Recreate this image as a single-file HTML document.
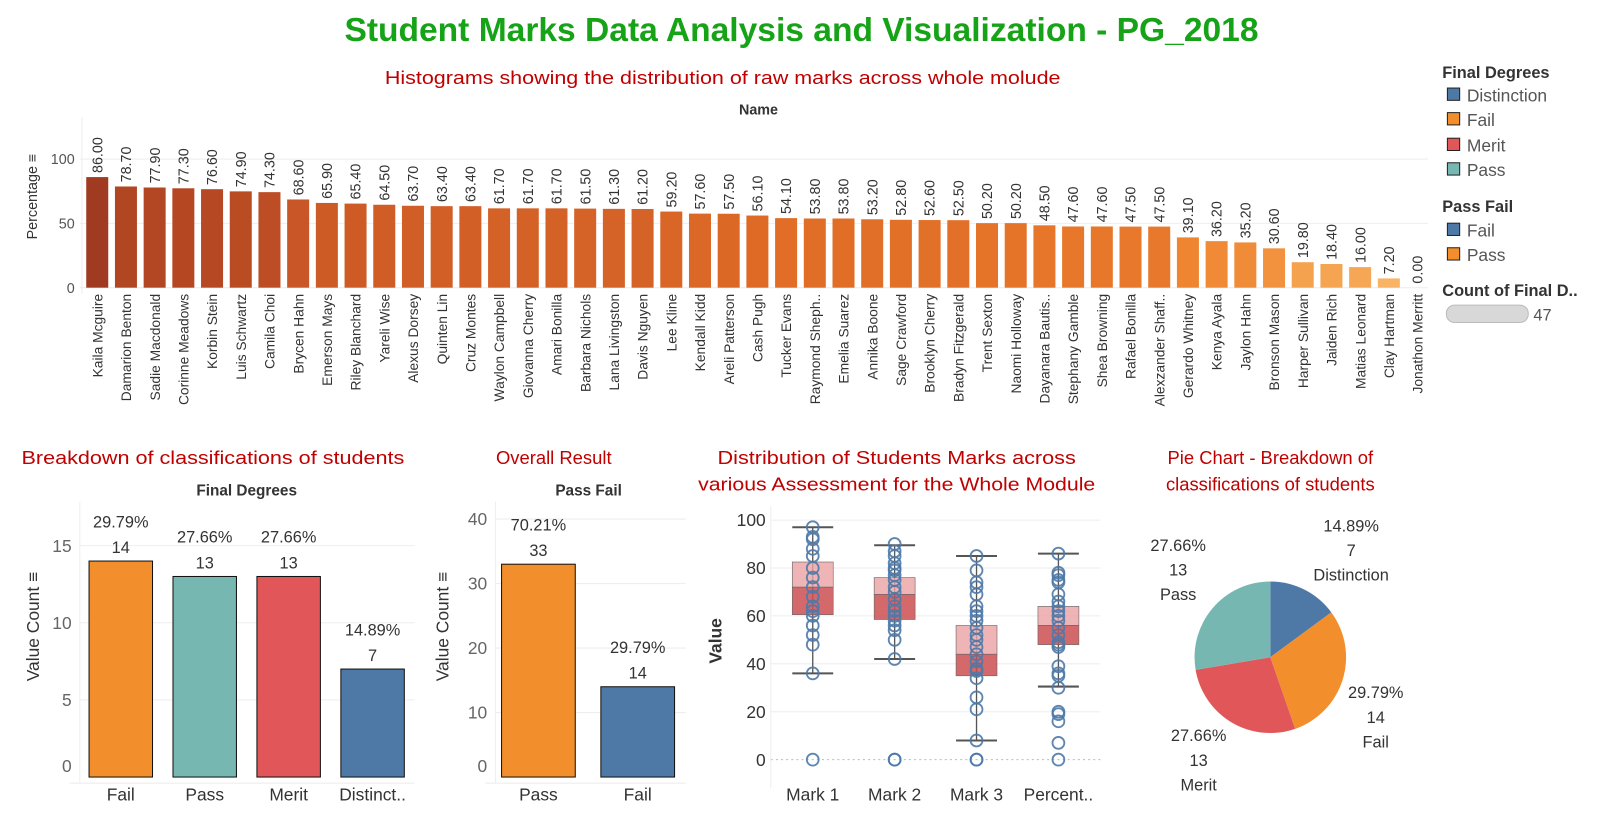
<!DOCTYPE html>
<html><head><meta charset="utf-8">
<style>
html,body{margin:0;padding:0;background:#fff;}
svg{display:block;font-family:"Liberation Sans",sans-serif;}
</style></head>
<body>
<svg id="root" width="1604" height="818" viewBox="0 0 1567 799" preserveAspectRatio="none" xmlns="http://www.w3.org/2000/svg">
<text x="783" y="40" text-anchor="middle" font-size="33" font-weight="bold" fill="#17a317" textLength="893" lengthAdjust="spacingAndGlyphs">Student Marks Data Analysis and Visualization - PG_2018</text>
<text x="706" y="82" text-anchor="middle" font-size="18" fill="#c00000" textLength="660" lengthAdjust="spacingAndGlyphs">Histograms showing the distribution of raw marks across whole molude</text>
<text x="741" y="112" text-anchor="middle" font-size="14" font-weight="bold" fill="#333">Name</text>
<g id="hist"></g>

<text x="208" y="453" text-anchor="middle" font-size="18" fill="#c00000" textLength="374" lengthAdjust="spacingAndGlyphs">Breakdown of classifications of students</text>
<text x="241" y="484" text-anchor="middle" font-size="15" font-weight="bold" fill="#333">Final Degrees</text>
<g id="deg"></g>

<text x="541" y="453" text-anchor="middle" font-size="18" fill="#c00000">Overall Result</text>
<text x="575" y="484" text-anchor="middle" font-size="15" font-weight="bold" fill="#333">Pass Fail</text>
<g id="pf"></g>

<text x="876" y="453" text-anchor="middle" font-size="18" fill="#c00000" textLength="350" lengthAdjust="spacingAndGlyphs">Distribution of Students Marks across</text>
<text x="876" y="479" text-anchor="middle" font-size="18" fill="#c00000" textLength="388" lengthAdjust="spacingAndGlyphs">various Assessment for the Whole Module</text>
<g id="box"></g>

<text x="1241" y="453" text-anchor="middle" font-size="18" fill="#c00000">Pie Chart - Breakdown of</text>
<text x="1241" y="479" text-anchor="middle" font-size="18" fill="#c00000">classifications of students</text>
<g id="pie"></g>

<g id="legend" font-size="17" fill="#555">
 <text x="1409" y="76" font-size="16" font-weight="bold" fill="#333">Final Degrees</text>
 <rect x="1414" y="86" width="12" height="12" fill="#4e79a7" stroke="#222"/>
 <text x="1433" y="99">Distinction</text>
 <rect x="1414" y="110" width="12" height="12" fill="#f28e2b" stroke="#222"/>
 <text x="1433" y="123">Fail</text>
 <rect x="1414" y="135" width="12" height="12" fill="#e15759" stroke="#222"/>
 <text x="1433" y="148">Merit</text>
 <rect x="1414" y="159" width="12" height="12" fill="#76b7b2" stroke="#222"/>
 <text x="1433" y="172">Pass</text>
 <text x="1409" y="207" font-size="16" font-weight="bold" fill="#333">Pass Fail</text>
 <rect x="1414" y="218" width="12" height="12" fill="#4e79a7" stroke="#222"/>
 <text x="1433" y="231">Fail</text>
 <rect x="1414" y="242" width="12" height="12" fill="#f28e2b" stroke="#222"/>
 <text x="1433" y="255">Pass</text>
 <text x="1409" y="289" font-size="16" font-weight="bold" fill="#333">Count of Final D..</text>
 <rect x="1413" y="298" width="80" height="17" rx="8" fill="#d8d8d8" stroke="#bbb"/>
 <text x="1498" y="313" font-size="16">47</text>
</g>
</svg>
<script>
const names = ["Kaila Mcguire","Damarion Benton","Sadie Macdonald","Corinne Meadows","Korbin Stein","Luis Schwartz","Camila Choi","Brycen Hahn","Emerson Mays","Riley Blanchard","Yareli Wise","Alexus Dorsey","Quinten Lin","Cruz Montes","Waylon Campbell","Giovanna Cherry","Amari Bonilla","Barbara Nichols","Lana Livingston","Davis Nguyen","Lee Kline","Kendall Kidd","Areli Patterson","Cash Pugh","Tucker Evans","Raymond Sheph..","Emelia Suarez","Annika Boone","Sage Crawford","Brooklyn Cherry","Bradyn Fitzgerald","Trent Sexton","Naomi Holloway","Dayanara Bautis..","Stephany Gamble","Shea Browning","Rafael Bonilla","Alexzander Shaff..","Gerardo Whitney","Kenya Ayala","Jaylon Hahn","Bronson Mason","Harper Sullivan","Jaiden Rich","Matias Leonard","Clay Hartman","Jonathon Merritt"];
const percentages = [86.00,78.70,77.90,77.30,76.60,74.90,74.30,68.60,65.90,65.40,64.50,63.70,63.40,63.40,61.70,61.70,61.70,61.50,61.30,61.20,59.20,57.60,57.50,56.10,54.10,53.80,53.80,53.20,52.80,52.60,52.50,50.20,50.20,48.50,47.60,47.60,47.50,47.50,39.10,36.20,35.20,30.60,19.80,18.40,16.00,7.20,0.00];
const histTicks = [0,50,100];

const degCats = ["Fail","Pass","Merit","Distinct.."];
const degCounts = [14,13,13,7];
const degPcts = ["29.79%","27.66%","27.66%","14.89%"];
const degTicks = [0,5,10,15];

const pfCats = ["Pass","Fail"];
const pfCounts = [33,14];
const pfPcts = ["70.21%","29.79%"];
const pfTicks = [0,10,20,30,40];

const boxCats = ["Mark 1","Mark 2","Mark 3","Percent.."];
const mark1 = [97,93,92,88,85,80,76,72,68,64,62,60,56,52,48,36,0];
const mark2 = [90,87,85,82,80,79,77,75,72,70,67,64,62,60,58,56,54,50,42,0,0];
const mark3 = [85,79,74,72,69,64,62,60,58,55,52,50,47,44,41,38,37,34,26,21,8,0,0];
const markPct = [86,78,77,75,74,69,66,64,62,60,58,55,52,49,48,47,39,36,35,30,20,19,16,7,0];
const whiskLo = [36,42,8,30.5];
const q1s = [60.5,58.5,35,48];
const medians = [72,69,44,56];
const q3s = [82.5,76,56,64];
const whiskHi = [97,89.5,85,86];
const boxTicks = [0,20,40,60,80,100];

const pieCats = ["Distinction","Fail","Merit","Pass"];
const pieCounts = [7,14,13,13];
const piePcts = ["14.89%","29.79%","27.66%","27.66%"];

const NS="http://www.w3.org/2000/svg";
function mk(parent,tag,attrs,txt){const e=document.createElementNS(NS,tag);for(const k in attrs)e.setAttribute(k,attrs[k]);if(txt!==undefined)e.textContent=txt;parent.appendChild(e);return e;}
const colorMap={"Fail":"#f28e2b","Pass":"#76b7b2","Merit":"#e15759","Distinct..":"#4e79a7","Distinction":"#4e79a7"};

function lerpColor(a,b,t){const pa=[1,3,5].map(i=>parseInt(a.substr(i,2),16)),pb=[1,3,5].map(i=>parseInt(b.substr(i,2),16));return "rgb("+pa.map((v,i)=>Math.round(v+(pb[i]-v)*t)).join(",")+")";}
function histColor(v){const stops=[[0,"#fbbd72"],[20,"#f5a24f"],[40,"#ef8430"],[55,"#e06c26"],[70,"#c65426"],[86,"#a03a20"]];
 for(let i=1;i<stops.length;i++){if(v<=stops[i][0]){const t=(v-stops[i-1][0])/(stops[i][0]-stops[i-1][0]);return lerpColor(stops[i-1][1],stops[i][1],t);}}return stops[stops.length-1][1];}

// Histogram
(function(){
 const g=document.getElementById('hist');
 const base=281,k=1.256,x0=95,pitch=28.04,bw=21.5;
 const y=v=>base-v*k, x=i=>x0+i*pitch;
 for(const t of histTicks){
  const gl=mk(g,'line',{x1:78,x2:1395,y1:y(t),y2:y(t),stroke:"#eee"});
  
  
  const tl=mk(g,'text',{x:73,y:y(t)+5,'text-anchor':'end','font-size':14,fill:'#555'},t);
  
  
 }
 const yt=mk(g,'text',{transform:"translate(36,192) rotate(-90)",'text-anchor':'middle','font-size':14,fill:'#333'},"Percentage \u2261");
 
 
 const ax=mk(g,'line',{x1:80,x2:80,y1:115,y2:287,stroke:'#eee'});
 
 
 percentages.forEach((v,i)=>{
  const r=mk(g,'rect',{x:x(i)-bw/2,y:y(v),width:bw,height:v*k,fill:histColor(v)});
  
  
  const lx=x(i)+5,ly=y(v)-4;
  const vl=mk(g,'text',{transform:`translate(${lx},${ly}) rotate(-90)`,'font-size':14,fill:'#333'},v.toFixed(2));
  
  
  const nl=mk(g,'text',{transform:`translate(${x(i)+5},287) rotate(-90)`,'text-anchor':'end','font-size':13.5,fill:'#333'},names[i]);
  
  
 });
})();

function barChart(gid,cats,counts,pcts,ticks,opt){
 const g=document.getElementById(gid);
 const y=v=>opt.base-v*opt.k;
 for(const t of ticks){
  if(t>0){const gl=mk(g,'line',{x1:opt.left,x2:opt.right,y1:y(t),y2:y(t),stroke:'#eee'});
  
  }
  const tl=mk(g,'text',{x:opt.left-8,y:Math.min(y(t)+6,opt.base-5),'text-anchor':'end','font-size':17,fill:'#666'},t);
  
  
 }
 const a1=mk(g,'line',{x1:opt.left,x2:opt.left,y1:opt.top,y2:opt.base+6,stroke:'#eee'});
 
 
 const a2=mk(g,'line',{x1:opt.left-10,x2:opt.right,y1:opt.base+6,y2:opt.base+6,stroke:'#eee'});
 
 
 const yt=mk(g,'text',{transform:`translate(${opt.ytx},${opt.yty}) rotate(-90)`,'text-anchor':'middle','font-size':17,fill:'#333'},"Value Count \u2261");
 
 
 cats.forEach((c,i)=>{
  const x=opt.x0+i*opt.pitch, v=counts[i];
  const r=mk(g,'rect',{x:x,y:y(v),width:opt.bw,height:v*opt.k,fill:opt.colors[i],stroke:'#111','stroke-width':1});
  
  
  const cx=x+opt.bw/2;
  const p=mk(g,'text',{x:cx,y:y(v)-33,'text-anchor':'middle','font-size':16,fill:'#333'},pcts[i]);
  
  
  const n=mk(g,'text',{x:cx,y:y(v)-8,'text-anchor':'middle','font-size':16,fill:'#333'},v);
  
  
  const xl=mk(g,'text',{x:cx,y:782,'text-anchor':'middle','font-size':17,fill:'#333'},c);
  
  
 });
}
barChart('deg',degCats,degCounts,degPcts,degTicks,{base:759,k:15.07,left:78,right:405,top:490,x0:87,pitch:82,bw:62,ytx:38,yty:612,colors:degCats.map(c=>colorMap[c])});
barChart('pf',pfCats,pfCounts,pfPcts,pfTicks,{base:759,k:6.3,left:484,right:670,top:490,x0:490,pitch:97,bw:72,ytx:438,yty:612,colors:["#f28e2b","#4e79a7"]});

// Boxplot
(function(){
 const g=document.getElementById('box');
 const y=v=>742-v*2.34, x=i=>794+i*80;
 for(const t of boxTicks){
  const gl=mk(g,'line',{x1:753,x2:1075,y1:y(t),y2:y(t),stroke:t===0?'#bbb':'#eee','stroke-dasharray':t===0?'2,3':'none'});
  
  
  const tl=mk(g,'text',{x:748,y:y(t)+6,'text-anchor':'end','font-size':17,fill:'#333'},t);
  
  
 }
 const yt=mk(g,'text',{transform:"translate(705,626) rotate(-90)",'text-anchor':'middle','font-size':17,'font-weight':'bold',fill:'#333'},"Value");
 
 
 const ax=mk(g,'line',{x1:753,x2:753,y1:495,y2:770,stroke:'#eee'});
 
 
 const series=[mark1,mark2,mark3,markPct];
 boxCats.forEach((c,i)=>{
  const cx=x(i),hw=20;
  const w=mk(g,'line',{x1:cx,x2:cx,y1:y(whiskLo[i]),y2:y(whiskHi[i]),stroke:'#555','stroke-width':1.3});
  
  
  const u=mk(g,'rect',{x:cx-hw,y:y(q3s[i]),width:2*hw,height:y(medians[i])-y(q3s[i]),fill:'#eba3a4','fill-opacity':0.8,stroke:'#666','stroke-width':0.6});
  
  
  const l=mk(g,'rect',{x:cx-hw,y:y(medians[i]),width:2*hw,height:y(q1s[i])-y(medians[i]),fill:'#cc4f52','fill-opacity':0.85,stroke:'#666','stroke-width':0.6});
  
  
  [whiskLo[i],whiskHi[i]].forEach(v=>{
   const cap=mk(g,'line',{x1:cx-hw,x2:cx+hw,y1:y(v),y2:y(v),stroke:'#555','stroke-width':2});
   
   
  });
  series[i].forEach(v=>{
   const p=mk(g,'circle',{cx:cx,cy:y(v),r:5.8,fill:'none',stroke:'#4e79a7','stroke-width':1.8,'stroke-opacity':0.9});
   
   
  });
  const xl=mk(g,'text',{x:cx,y:782,'text-anchor':'middle','font-size':17,fill:'#333'},c);
  
  
 });
})();

// Pie
(function(){
 const g=document.getElementById('pie');
 const cx=1241,cy=642,R=74;
 const total=pieCounts.reduce((a,b)=>a+b,0);
 let a0=0;
 const labelPos=[[1320,519],[1344,682],[1171,724],[1151,538]];
 pieCats.forEach((c,i)=>{
  const a1=a0+pieCounts[i]/total*2*Math.PI;
  const p=(a)=>[cx+R*Math.sin(a),cy-R*Math.cos(a)];
  const [x1,y1]=p(a0),[x2,y2]=p(a1);
  const large=(a1-a0)>Math.PI?1:0;
  const s=mk(g,'path',{d:`M${cx},${cy} L${x1},${y1} A${R},${R} 0 ${large} 1 ${x2},${y2} Z`,fill:colorMap[c]});
  
  
  const [lx,ly]=labelPos[i];
  [piePcts[i],pieCounts[i],c].forEach((t,j)=>{
   const tx=mk(g,'text',{x:lx,y:ly+j*24,'text-anchor':'middle','font-size':16,fill:'#333'},t);
   
   
  });
  a0=a1;
 });
})();
</script>
</body></html>
